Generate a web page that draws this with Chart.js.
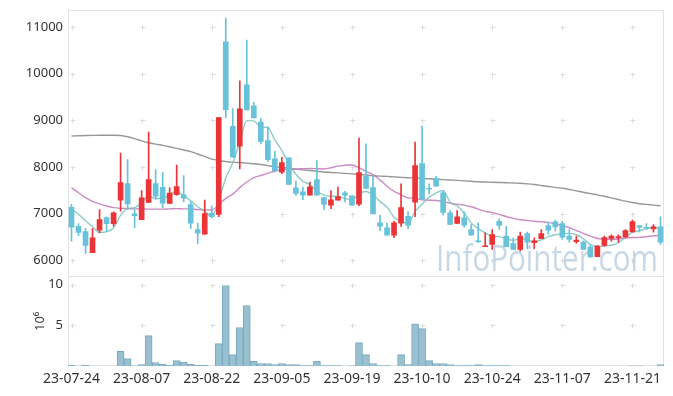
<!DOCTYPE html>
<html>
<head>
<meta charset="utf-8">
<title>Price and volume</title>
<style>
    body { margin: 0; background: #fff; }
</style>
<script src="https://cdn.jsdelivr.net/npm/chart.js"></script>
</head>
<body>
<canvas id="chart" width="673" height="396"></canvas>
<script>
// trading days, 23-07-24 .. 23-11-27
var dates = [
    '23-07-24','23-07-25','23-07-26','23-07-27','23-07-28','23-07-31','23-08-01','23-08-02','23-08-03','23-08-04',
    '23-08-07','23-08-08','23-08-09','23-08-10','23-08-11','23-08-14','23-08-16','23-08-17','23-08-18','23-08-21',
    '23-08-22','23-08-23','23-08-24','23-08-25','23-08-28','23-08-29','23-08-30','23-08-31','23-09-01','23-09-04',
    '23-09-05','23-09-06','23-09-07','23-09-08','23-09-11','23-09-12','23-09-13','23-09-14','23-09-15','23-09-18',
    '23-09-19','23-09-20','23-09-21','23-09-22','23-09-25','23-09-26','23-09-27','23-10-04','23-10-05','23-10-06',
    '23-10-10','23-10-11','23-10-12','23-10-13','23-10-16','23-10-17','23-10-18','23-10-19','23-10-20','23-10-23',
    '23-10-24','23-10-25','23-10-26','23-10-27','23-10-30','23-10-31','23-11-01','23-11-02','23-11-03','23-11-06',
    '23-11-07','23-11-08','23-11-09','23-11-10','23-11-13','23-11-14','23-11-15','23-11-16','23-11-17','23-11-20',
    '23-11-21','23-11-22','23-11-23','23-11-24','23-11-27'
];

var openP = [
    7140,6730,6620,6165,6650,6920,6790,7290,7645,7000,
    6875,7245,7645,7565,7220,7410,7405,7195,6660,6560,
    7010,6985,10680,8870,8445,9760,9310,8965,8565,8175,
    7890,8200,7555,7468,7396,7731,7345,7182,7289,7447,
    7385,7205,7800,7563,6805,6699,6541,6798,6945,7250,
    8073,7535,7752,7447,7019,6791,6912,6662,6420,6293,
    6342,6840,6519,6363,6235,6577,6378,6464,6748,6826,
    6791,6519,6400,6391,6284,6079,6320,6470,6485,6499,
    6613,6748,6705,6677,6720
];
var highP = [
    7200,6790,6690,6680,7090,6935,7040,8300,8160,7090,
    7495,8750,7945,7885,7555,8045,7820,7265,6800,7295,
    7170,9060,11190,9250,9845,10720,9385,9040,8865,8335,
    8210,8200,7700,7570,7678,8137,7350,7490,7570,7481,
    7385,8622,8497,7820,6968,6800,6840,7639,7048,8537,
    8878,7640,7802,7481,7069,7069,7041,6769,6800,6592,
    6662,6891,6733,6485,6605,6605,6485,6662,6805,6862,
    6840,6662,6519,6420,6342,6320,6519,6549,6549,6662,
    6862,6748,6791,6769,6934
];
var lowP = [
    6410,6530,6150,6165,6590,6620,6735,7055,7090,6700,
    6875,7245,7305,7125,7220,7400,7255,6680,6360,6560,
    6910,6935,9050,8210,7960,9225,9050,8495,8120,7910,
    7860,7630,7395,7300,7396,7396,7085,7110,7289,7254,
    7180,7175,7532,6994,6635,6541,6490,6726,6680,6937,
    7300,7425,7588,6968,6769,6791,6712,6541,6380,6293,
    6235,6662,6293,6235,6199,6250,6250,6464,6556,6626,
    6449,6391,6363,6235,6058,6079,6306,6412,6391,6499,
    6613,6605,6662,6605,6342
];
var closeP = [
    6710,6600,6320,6485,6875,6790,7020,7670,7210,6960,
    7340,7730,7375,7225,7440,7580,7335,6800,6585,7005,
    6940,9060,9230,8210,9245,9225,9050,8550,8160,7915,
    8095,7630,7435,7396,7578,7396,7200,7300,7370,7396,
    7182,7880,7545,6994,6733,6541,6805,7133,6750,8030,
    7320,7525,7588,7030,6769,6934,6754,6541,6400,6315,
    6556,6748,6293,6235,6519,6391,6421,6577,6648,6720,
    6499,6449,6434,6235,6079,6306,6492,6519,6513,6641,
    6834,6705,6690,6720,6391
];

// moving averages
var ma5 = [
    7100,6990,6850,6720,6600,6615,6700,6965,7110,7130,
    7240,7380,7325,7325,7420,7470,7390,7275,7150,7060,
    6935,7280,7765,8090,8535,8995,8990,8855,8845,8580,
    8355,8070,7845,7695,7625,7485,7400,7375,7370,7330,
    7290,7425,7475,7400,7265,7140,6925,6840,6790,7050,
    7210,7350,7445,7500,7245,7170,7015,6805,6680,6590,
    6515,6510,6460,6430,6470,6440,6400,6440,6510,6550,
    6575,6580,6550,6465,6340,6300,6310,6325,6380,6495,
    6600,6640,6675,6715,6670
];
var ma20 = [
    7560,7450,7345,7265,7210,7165,7130,7115,7110,7105,
    7105,7100,7100,7100,7105,7110,7105,7100,7090,7085,
    7080,7200,7330,7420,7560,7680,7775,7820,7865,7910,
    7950,7950,7960,7965,7970,7965,7960,7985,8020,8040,
    8045,7985,7905,7840,7720,7590,7480,7405,7340,7330,
    7300,7290,7285,7260,7225,7205,7185,7150,7100,7050,
    7025,6985,6940,6900,6870,6855,6840,6825,6815,6780,
    6750,6700,6640,6580,6520,6470,6458,6455,6460,6478,
    6490,6495,6508,6528,6530
];
var ma60 = [
    8665,8670,8675,8678,8680,8680,8680,8675,8650,8610,
    8560,8520,8490,8465,8435,8400,8365,8330,8280,8225,
    8170,8140,8120,8105,8095,8085,8070,8055,8030,8005,
    7990,7975,7955,7940,7925,7910,7895,7885,7875,7865,
    7855,7845,7830,7815,7805,7800,7790,7780,7772,7765,
    7755,7748,7740,7730,7722,7715,7705,7695,7685,7680,
    7675,7670,7665,7658,7652,7640,7625,7605,7585,7565,
    7545,7520,7490,7460,7430,7405,7375,7340,7305,7270,
    7240,7215,7200,7185,7170
];

// volume in millions of shares
var volume = [
    0.12,0,0.12,0,0,0,0,1.83,0.94,0.06,
    0.2,3.74,0.45,0.24,0.1,0.7,0.49,0.24,0.12,0.1,
    0,2.77,9.88,1.42,4.72,7.44,0.61,0.33,0.33,0.2,
    0.33,0.2,0.2,0.08,0.08,0.61,0.08,0.08,0.08,0,
    0.06,2.89,1.42,0.33,0.08,0.08,0,1.42,0.2,5.2,
    4.6,0.69,0.33,0.33,0.2,0.08,0.08,0.08,0.2,0.08,
    0.08,0.08,0.08,0,0,0,0,0,0,0,
    0,0,0,0,0,0,0,0,0,0,
    0.05,0.05,0,0,0.2
];

var priceTicks = [6000, 7000, 8000, 9000, 10000, 11000];
var volTicks = [5, 10];

var upColor = 'rgb(234,52,55)';
var downColor = 'rgb(104,194,218)';

var candleColors = closeP.map(function(c, i) {
    return c >= openP[i] ? upColor : downColor;
});
var wicks = lowP.map(function(l, i) { return [l, highP[i]]; });
var bodies = openP.map(function(o, i) { return [o, closeP[i]]; });

// small "+" marks at grid points, frame, watermark
var decor = {
    id: 'decor',
    beforeDatasetsDraw: function(chart) {
        var ctx = chart.ctx;
        var a = chart.chartArea;
        var x = chart.scales.x, y = chart.scales.y, yv = chart.scales.yv;
        ctx.save();
        ctx.lineWidth = 1;
        ctx.strokeStyle = '#e3e3e3';
        ctx.strokeRect(Math.round(a.left) + 0.5, Math.round(a.top) + 0.5,
            Math.round(a.right - a.left) - 1, Math.round(a.bottom - a.top) - 1);
        ctx.beginPath();
        ctx.moveTo(a.left, Math.round(yv.top) + 0.5);
        ctx.lineTo(a.right, Math.round(yv.top) + 0.5);
        ctx.stroke();

        ctx.strokeStyle = '#dcdcdc';
        var xs = x.ticks.map(function(t) { return Math.round(x.getPixelForValue(t.value)) + 0.5; });
        var ys = y.ticks.map(function(t) { return Math.round(y.getPixelForValue(t.value)) + 0.5; })
            .concat(yv.ticks.map(function(t) { return Math.round(yv.getPixelForValue(t.value)) + 0.5; }));
        ctx.beginPath();
        xs.forEach(function(px) {
            ys.forEach(function(py) {
                ctx.moveTo(px - 2, py); ctx.lineTo(px + 3, py);
                ctx.moveTo(px, py - 2); ctx.lineTo(px, py + 3);
            });
        });
        ctx.stroke();

        ctx.font = '37px "Open Sans"';
        ctx.fillStyle = 'rgba(160,190,212,0.6)';
        ctx.textAlign = 'right';
        ctx.textBaseline = 'alphabetic';
        ctx.fillText('InfoPointer.com', a.right - 6, y.bottom - 5, 222);
        ctx.restore();
    },
    afterDraw: function(chart) {
        var ctx = chart.ctx;
        var yv = chart.scales.yv;
        ctx.save();
        ctx.translate(40, (yv.top + yv.bottom) / 2);
        ctx.rotate(-Math.PI / 2);
        ctx.fillStyle = '#333';
        ctx.font = '13px "Noto Sans"';
        ctx.textAlign = 'center';
        ctx.textBaseline = 'middle';
        ctx.fillText('10\u2076', 0, 0);
        ctx.restore();
    }
};

function plainLabel(v) { return String(v); }

// fixed axis width, no extra room for edge labels
function fixAxis(s) {
    s.width = 60;
    s.paddingTop = 0;
    s.paddingBottom = 0;
}

new Chart(document.getElementById('chart').getContext('2d'), {
    type: 'bar',
    data: {
        labels: dates,
        datasets: [
            { type: 'bar', data: bodies, yAxisID: 'y', backgroundColor: candleColors,
              barThickness: 5, minBarLength: 1, grouped: false, order: 0 },
            { type: 'bar', data: wicks, yAxisID: 'y', backgroundColor: candleColors,
              barThickness: 1, grouped: false, order: 1 },
            { type: 'bar', data: volume, yAxisID: 'yv', backgroundColor: 'rgb(152,192,208)',
              borderColor: 'rgb(122,168,190)', borderWidth: 1,
              barPercentage: 1, categoryPercentage: 1, grouped: false, order: 2 },
            { type: 'line', data: ma5, yAxisID: 'y', borderColor: 'rgba(120,195,188,0.85)',
              borderWidth: 1.4, pointRadius: 0, cubicInterpolationMode: 'monotone', order: 5 },
            { type: 'line', data: ma20, yAxisID: 'y', borderColor: 'rgba(200,125,188,0.9)',
              borderWidth: 1.4, pointRadius: 0, cubicInterpolationMode: 'monotone', order: 6 },
            { type: 'line', data: ma60, yAxisID: 'y', borderColor: 'rgba(145,145,145,0.95)',
              borderWidth: 1.4, pointRadius: 0, cubicInterpolationMode: 'monotone', order: 7 }
        ]
    },
    options: {
        responsive: false,
        animation: false,
        layout: { padding: { top: 10, right: 9, bottom: 5, left: 8 } },
        plugins: { legend: { display: false }, tooltip: { enabled: false } },
        scales: {
            x: {
                offset: true,
                grid: { display: false, drawTicks: false },
                border: { display: false },
                afterBuildTicks: function(s) {
                    s.ticks = s.ticks.filter(function(t) { return t.value % 10 === 0; });
                },
                ticks: {
                    autoSkip: false, maxRotation: 0, padding: 4,
                    color: '#333', font: { family: 'Noto Sans', size: 14 }
                }
            },
            yv: {
                position: 'left', stack: 'panels', stackWeight: 90,
                min: 0, max: 11,
                grid: { display: false, drawTicks: false },
                border: { display: false },
                afterBuildTicks: function(s) {
                    s.ticks = volTicks.map(function(v) { return { value: v }; });
                },
                afterFit: fixAxis,
                ticks: { padding: 5, color: '#333', font: { family: 'Noto Sans', size: 13 },
                         callback: plainLabel }
            },
            y: {
                position: 'left', stack: 'panels', stackWeight: 267,
                min: 5658, max: 11364,
                grid: { display: false, drawTicks: false },
                border: { display: false },
                afterBuildTicks: function(s) {
                    s.ticks = priceTicks.map(function(v) { return { value: v }; });
                },
                afterFit: fixAxis,
                ticks: { padding: 5, color: '#333', font: { family: 'Noto Sans', size: 13 },
                         callback: plainLabel }
            }
        }
    },
    plugins: [decor]
});
</script>
</body>
</html>
